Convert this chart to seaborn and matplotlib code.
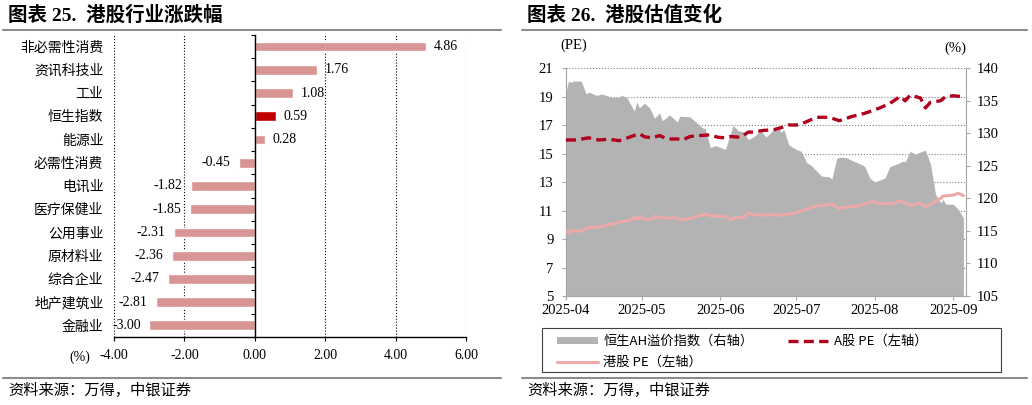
"""
Two-panel chart: HK sector returns (left) and HK valuation vs A-share (right).
"""

import numpy as np
import pandas as pd
import matplotlib
matplotlib.use("Agg")
import matplotlib.pyplot as plt
import matplotlib.dates as mdates
from matplotlib.lines import Line2D
from matplotlib.patches import Patch, Rectangle
from matplotlib.ticker import FixedLocator, FormatStrFormatter
from matplotlib.font_manager import FontProperties
import seaborn as sns

# ---- left panel: 港股行业涨跌幅 (%)
sectors = ["非必需性消费", "资讯科技业", "工业", "恒生指数", "能源业", "必需性消费",
           "电讯业", "医疗保健业", "公用事业", "原材料业", "综合企业", "地产建筑业", "金融业"]
changes = [4.86, 1.76, 1.08, 0.59, 0.28, -0.45, -1.82, -1.85, -2.31, -2.36, -2.47, -2.81, -3.00]
left_xticks = [-4, -2, 0, 2, 4, 6]

# ---- right panel: 恒生AH溢价指数 (right axis, %)
ah_dates = ["2025-04-01", "2025-04-02", "2025-04-03", "2025-04-04", "2025-04-07", "2025-04-09",
            "2025-04-10", "2025-04-13", "2025-04-15", "2025-04-17", "2025-04-19", "2025-04-22",
            "2025-04-23", "2025-04-25", "2025-04-28", "2025-04-29", "2025-04-30", "2025-05-02",
            "2025-05-04", "2025-05-06", "2025-05-08", "2025-05-09", "2025-05-12", "2025-05-15",
            "2025-05-16", "2025-05-20", "2025-05-22", "2025-05-25", "2025-05-26", "2025-05-28",
            "2025-05-30", "2025-06-03", "2025-06-06", "2025-06-08", "2025-06-10", "2025-06-12",
            "2025-06-14", "2025-06-17", "2025-06-19", "2025-06-22", "2025-06-24", "2025-06-25",
            "2025-06-26", "2025-06-28", "2025-07-01", "2025-07-03", "2025-07-05", "2025-07-07",
            "2025-07-09", "2025-07-11", "2025-07-14", "2025-07-15", "2025-07-17", "2025-07-19",
            "2025-07-21", "2025-07-23", "2025-07-26", "2025-07-28", "2025-07-30", "2025-08-01",
            "2025-08-03", "2025-08-05", "2025-08-07", "2025-08-10", "2025-08-12", "2025-08-13",
            "2025-08-15", "2025-08-17", "2025-08-19", "2025-08-21", "2025-08-23", "2025-08-25",
            "2025-08-27", "2025-08-28", "2025-08-29", "2025-09-01", "2025-09-03", "2025-09-05"]
ah_premium = [136.3, 138.0, 137.8, 138.0, 138.0, 136.0,
              136.3, 135.8, 136.0, 135.8, 135.5, 135.5,
              135.8, 135.5, 133.4, 134.8, 133.9, 134.6,
              133.9, 132.3, 133.1, 131.9, 132.8, 131.7,
              132.6, 132.5, 131.8, 130.8, 130.7, 127.8,
              128.1, 127.5, 131.2, 130.4, 130.2, 129.0,
              129.4, 130.4, 129.4, 130.5, 130.8, 130.1,
              130.6, 128.2, 127.5, 127.2, 125.5, 125.0,
              124.2, 123.4, 123.3, 122.9, 126.2, 126.3,
              126.2, 125.8, 125.3, 124.9, 123.1, 122.5,
              122.8, 123.1, 124.9, 125.3, 125.7, 125.6,
              127.2, 126.8, 127.1, 127.4, 125.2, 120.6,
              119.3, 119.8, 119.1, 119.1, 118.3, 117.0]

# ---- A股 PE (left axis)
a_dates = ["2025-04-01", "2025-04-05", "2025-04-10", "2025-04-14", "2025-04-18", "2025-04-22",
           "2025-04-26", "2025-04-30", "2025-05-02", "2025-05-05", "2025-05-08", "2025-05-11",
           "2025-05-15", "2025-05-17", "2025-05-20", "2025-05-24", "2025-05-28", "2025-05-31",
           "2025-06-03", "2025-06-05", "2025-06-09", "2025-06-12", "2025-06-14", "2025-06-18",
           "2025-06-22", "2025-06-25", "2025-06-28", "2025-07-02", "2025-07-05", "2025-07-09",
           "2025-07-14", "2025-07-18", "2025-07-23", "2025-07-28", "2025-08-03", "2025-08-07",
           "2025-08-11", "2025-08-13", "2025-08-15", "2025-08-19", "2025-08-21", "2025-08-23",
           "2025-08-27", "2025-08-29", "2025-09-01", "2025-09-04", "2025-09-05"]
a_pe = [15.95, 15.95, 16.10, 15.95, 16.00, 15.90,
        16.14, 16.40, 16.17, 16.10, 16.26, 16.02,
        16.02, 15.95, 16.19, 16.26, 16.31, 16.14,
        16.10, 16.19, 16.14, 16.50, 16.50, 16.62,
        16.67, 16.81, 17.00, 17.00, 17.23, 17.54,
        17.54, 17.30, 17.60, 17.82, 18.20, 18.52,
        19.00, 18.70, 19.10, 18.90, 18.20, 18.60,
        18.70, 19.00, 19.05, 19.00, 18.85]

# ---- 港股 PE (left axis)
hk_dates = ["2025-04-01", "2025-04-02", "2025-04-03", "2025-04-07", "2025-04-09", "2025-04-11",
            "2025-04-15", "2025-04-19", "2025-04-23", "2025-04-27", "2025-04-28", "2025-04-29",
            "2025-04-30", "2025-05-02", "2025-05-05", "2025-05-06", "2025-05-10", "2025-05-14",
            "2025-05-17", "2025-05-19", "2025-05-22", "2025-05-25", "2025-05-26", "2025-05-28",
            "2025-05-30", "2025-06-03", "2025-06-05", "2025-06-07", "2025-06-10", "2025-06-12",
            "2025-06-14", "2025-06-18", "2025-06-22", "2025-06-25", "2025-06-30", "2025-07-05",
            "2025-07-09", "2025-07-12", "2025-07-15", "2025-07-18", "2025-07-23", "2025-07-26",
            "2025-07-31", "2025-08-03", "2025-08-08", "2025-08-11", "2025-08-15", "2025-08-19",
            "2025-08-21", "2025-08-24", "2025-08-27", "2025-08-28", "2025-09-01", "2025-09-03",
            "2025-09-05"]
hk_pe = [9.60, 9.42, 9.57, 9.55, 9.76, 9.81,
         9.88, 10.05, 10.20, 10.36, 10.55, 10.36,
         10.57, 10.38, 10.38, 10.60, 10.45, 10.50,
         10.33, 10.43, 10.55, 10.67, 10.76, 10.64,
         10.60, 10.60, 10.33, 10.50, 10.50, 10.83,
         10.71, 10.67, 10.71, 10.66, 10.80, 11.08,
         11.32, 11.36, 11.46, 11.15, 11.27, 11.36,
         11.62, 11.50, 11.46, 11.68, 11.36, 11.52,
         11.25, 11.55, 11.85, 12.02, 12.08, 12.20,
         12.05]

left_ylim = (5, 21)
right_ylim = (105, 140)
date_range = ("2025-04-01", "2025-09-06")

BAR_PINK = "#D99594"
HSI_RED = "#C00000"
AREA_GREY = "#B3B3B3"
A_RED = "#B0001E"
HK_PINK = "#EBAAA9"
SPINE_GREY = "#A6A6A6"
RULE_GREY = "#8C8C8C"

sns.set_style("ticks")
plt.rcParams["font.family"] = ["Liberation Serif", "Noto Sans CJK SC"]
plt.rcParams.update({
    "axes.unicode_minus": False,
    "text.color": "black",
    "xtick.color": "black",
    "ytick.color": "black",
    "xtick.labelcolor": "black",
    "ytick.labelcolor": "black",
})

fig = plt.figure(figsize=(10.32, 4.05), dpi=100)

# =============== left panel ===============
ax = fig.add_axes([0.1105, 0.168, 0.341, 0.7457])
bar_df = pd.DataFrame({"sector": sectors, "change": changes})
palette = {s: (HSI_RED if s == "恒生指数" else BAR_PINK) for s in sectors}
sns.barplot(data=bar_df, x="change", y="sector", hue="sector", order=sectors,
            hue_order=sectors, palette=palette, saturation=1, width=0.42,
            legend=False, ax=ax)
for cont in ax.containers:
    ax.bar_label(cont, fmt="%.2f", padding=6, fontsize=10)

ax.set_xlim(-4, 6)
ax.set_xticks(left_xticks)
ax.xaxis.set_major_formatter(FormatStrFormatter("%.2f"))
ax.xaxis.grid(True, linestyle=":", color="black", linewidth=0.8)
ax.set_axisbelow(True)
ax.spines[["top", "right"]].set_visible(False)
ax.spines["left"].set_position(("data", 0))
for s in ["left", "bottom"]:
    ax.spines[s].set_color("black")
    ax.spines[s].set_linewidth(1.0)
ax.tick_params(axis="y", which="major", length=0, pad=109, labelsize=10)
ax.yaxis.set_minor_locator(FixedLocator(np.arange(-0.5, len(sectors), 1)))
ax.tick_params(axis="y", which="minor", length=3, width=0.8, color="black")
ax.tick_params(axis="x", length=3, width=0.8, color="black", labelsize=10, pad=6)
ax.set_xlabel("")
ax.set_ylabel("")
ax.text(-0.097, -0.066, "(%)", transform=ax.transAxes, ha="center", va="center",
        fontsize=10)

# =============== right panel ===============
rect = [0.5484, 0.2691, 0.3876, 0.563]
axl = fig.add_axes(rect)
axr = axl.twinx()
axt = fig.add_axes(rect, sharex=axl, sharey=axl, label="lines")

ah_x = pd.to_datetime(ah_dates)
axr.fill_between(ah_x, ah_premium, right_ylim[0], color=AREA_GREY, linewidth=0)
axr.set_ylim(right_ylim)
axr.set_yticks(np.arange(right_ylim[0], right_ylim[1] + 1, 5))

sns.lineplot(x=pd.to_datetime(hk_dates), y=hk_pe, ax=axt, color=HK_PINK,
             linewidth=2.2)
sns.lineplot(x=pd.to_datetime(a_dates), y=a_pe, ax=axt, color=A_RED,
             linewidth=2.4, linestyle=(0, (3, 1.6)))
axt.axis("off")

axl.set_xlim(pd.to_datetime(date_range[0]), pd.to_datetime(date_range[1]))
axl.set_ylim(left_ylim)
axl.set_yticks(np.arange(left_ylim[0], left_ylim[1] + 1, 2))
axl.xaxis.set_major_locator(mdates.MonthLocator())
axl.xaxis.set_major_formatter(mdates.DateFormatter("%Y-%m"))
axl.yaxis.grid(True, linestyle=":", color="#7F7F7F", linewidth=0.8)
axl.xaxis.grid(False)

axl.spines[["top", "right"]].set_visible(False)
axl.spines["left"].set_color(SPINE_GREY)
axl.spines["bottom"].set_color(SPINE_GREY)
axr.spines["top"].set_visible(False)
for s in ["left", "right", "bottom"]:
    axr.spines[s].set_color(SPINE_GREY)
axl.tick_params(axis="y", length=3, width=0.8, color=SPINE_GREY, labelsize=10.5, pad=6)
axl.tick_params(axis="x", length=3, width=0.8, color=SPINE_GREY, labelsize=10.5, pad=2.5)
axr.tick_params(axis="y", length=3, width=0.8, color=SPINE_GREY, labelsize=10.5, pad=5)

axl.text(0.02, 1.10, "(PE)", transform=axl.transAxes, ha="center", va="center",
         fontsize=10.5)
axl.text(0.973, 1.088, "(%)", transform=axl.transAxes, ha="center", va="center",
         fontsize=10.5)

handles = [Patch(facecolor=AREA_GREY, edgecolor="none"),
           Line2D([], [], color=HK_PINK, linewidth=2.2),
           Line2D([], [], color=A_RED, linewidth=2.4, linestyle=(0, (3, 1.6)))]
labels = ["恒生AH溢价指数（右轴）", "港股 PE（左轴）", "A股 PE（左轴）"]
leg = fig.legend(handles, labels, loc="upper left",
                 bbox_to_anchor=(0.5397, 0.173), ncol=2, frameon=False,
                 prop=FontProperties(family="Noto Sans CJK SC", size=9.5),
                 handlelength=3.1, handleheight=0.45, handletextpad=0.4,
                 columnspacing=2.6, borderaxespad=0, borderpad=0,
                 labelspacing=0.6)
fig.add_artist(Rectangle((0.5252, 0.0815), 0.4448, 0.1086, transform=fig.transFigure,
                         fill=False, edgecolor="#404040", linewidth=0.8))

# =============== titles, rules, notes ===============
title_font = ["Liberation Serif", "Noto Sans CJK SC"]
fig.text(0.008, 0.963, "图表 25.  港股行业涨跌幅", fontsize=14, fontweight="bold",
         va="center", family=title_font)
fig.text(0.511, 0.963, "图表 26.  港股估值变化", fontsize=14, fontweight="bold",
         va="center", family=title_font)
for x0, x1 in [(0.003, 0.485), (0.506, 0.995)]:
    fig.add_artist(Line2D([x0, x1], [0.926, 0.926], color=RULE_GREY, linewidth=1.5))
    fig.add_artist(Line2D([x0, x1], [0.0667, 0.0667], color=RULE_GREY, linewidth=1.5))
fig.text(0.008, 0.037, "资料来源：万得，中银证券", fontsize=11, va="center",
         family="Noto Sans CJK SC", style="italic")
fig.text(0.511, 0.037, "资料来源：万得，中银证券", fontsize=11, va="center",
         family="Noto Sans CJK SC", style="italic")

fig.savefig("out.png", dpi=100)
